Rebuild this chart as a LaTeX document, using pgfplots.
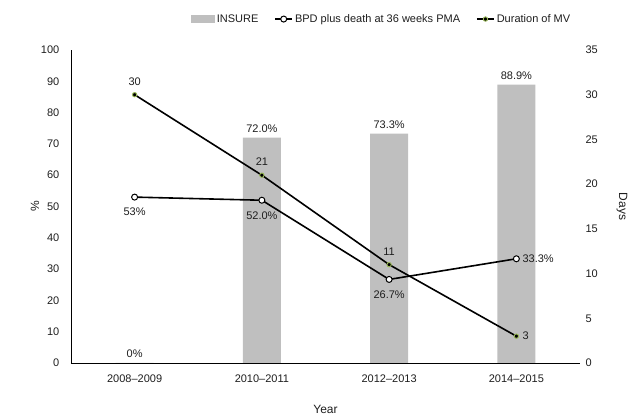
\documentclass[border=0pt]{standalone}
\usepackage{fontspec}
\setmainfont{Liberation Sans}
\usepackage{pgfplots}
\pgfplotsset{compat=1.18}
\definecolor{barcol}{RGB}{191,191,191}
\definecolor{mvedge}{RGB}{155,187,89}
\definecolor{txt}{RGB}{30,30,30}

\pgfplotsset{
  common/.style={
    scale only axis, width=509pt, height=313pt,
    xmin=-0.5, xmax=3.5,
    tick style={draw=none},
    /pgf/number format/assume math mode=true,
    tick label style={font=\fontsize{11pt}{13pt}\selectfont, text=txt},
    label style={font=\fontsize{12pt}{14pt}\selectfont, text=txt},
  },
  bpdstyle/.style={black, line width=1.6pt, mark=*, mark size=3pt,
    mark options={fill=white, draw=black, line width=1pt}},
  mvstyle/.style={black, line width=1.6pt, mark=*, mark size=2.2pt,
    mark options={fill=black, draw=mvedge, line width=0.9pt}},
  lbl/.style 2 args={forget plot, draw=none, mark=none, point meta=explicit symbolic,
    nodes near coords,
    every node near coord/.append style={anchor=#1, font=\fontsize{11pt}{13pt}\selectfont, text=txt, inner sep=#2}},
}

\begin{document}
\begin{tikzpicture}
\begin{axis}[common, name=ax,
  ymin=0, ymax=100, ytick={0,10,...,100},
  axis x line=bottom, axis y line=left,
  axis line style={-, line width=0.8pt, black},
  xtick={0,1,2,3},
  xticklabels={2008--2009, 2010--2011, 2012--2013, 2014--2015},
  xticklabel style={yshift=-6pt},
  yticklabel style={xshift=-6pt},
  xlabel={Year}, xlabel style={yshift=-16pt},
  ylabel={\%}, ylabel style={yshift=-5pt},
  legend style={at={(0.61,1)}, anchor=south, yshift=22pt, draw=none,
    font=\fontsize{11pt}{13pt}\selectfont, text=txt,
    /tikz/every even column/.append style={column sep=14pt}},
  legend columns=-1,
]
\addplot[ybar, bar width=38pt, bar shift=0pt, fill=barcol, draw=none,
  point meta=explicit symbolic,
  nodes near coords, every node near coord/.append style={font=\fontsize{11pt}{13pt}\selectfont, text=txt, inner sep=5pt},
  legend image code/.code={\fill[barcol] (-2pt,-4pt) rectangle (22pt,4pt);}]
  coordinates {(0,0) [0\%] (1,72) [72.0\%] (2,73.3) [73.3\%] (3,88.9) [88.9\%]};
\addlegendentry{INSURE}
\addplot[bpdstyle] coordinates {(0,53) (1,52) (2,26.7) (3,33.3)};
\addlegendentry{BPD plus death at 36 weeks PMA}
\addlegendimage{mvstyle}
\addlegendentry{Duration of MV}
\addplot[lbl={north}{11pt}] coordinates {(0,53) [53\%] (1,52) [52.0\%] (2,26.7) [26.7\%]};
\addplot[lbl={west}{6pt}] coordinates {(3,33.3) [33.3\%]};
\end{axis}
\begin{axis}[common,
  ymin=0, ymax=35, ytick={0,5,...,35},
  axis x line=none, axis y line*=right,
  y axis line style={draw=none},
  yticklabel style={xshift=2pt},
  ylabel={Days}, ylabel style={rotate=180, yshift=12pt},
]
\addplot[mvstyle] coordinates {(0,30) (1,21) (2,11) (3,3)};
\addplot[lbl={south}{9pt}] coordinates {(0,30) [30] (1,21) [21] (2,11) [11]};
\addplot[lbl={west}{6pt}] coordinates {(3,3) [3]};
\end{axis}
\path (ax.south west) ++(-71pt,-54pt) rectangle ++(633pt,417pt);
\end{tikzpicture}
\end{document}
